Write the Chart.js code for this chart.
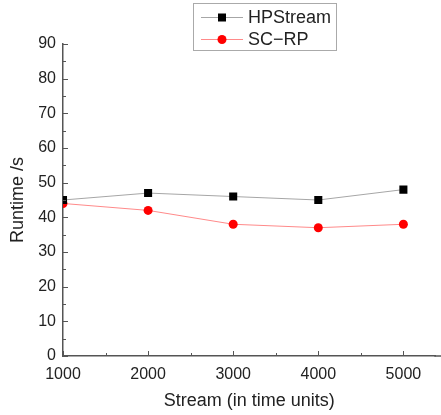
<!DOCTYPE html>
<html>
<head>
<meta charset="utf-8">
<script src="https://cdn.jsdelivr.net/npm/chart.js@4"></script>
<style>
  html, body { margin: 0; padding: 0; background: #fff; }
  #wrap { width: 441px; height: 415px; }
</style>
</head>
<body>
<div id="wrap"><canvas id="runtimeChart"></canvas></div>
<script>
// Data
const streamSizes = [1000, 2000, 3000, 4000, 5000];
const hpStreamRuntime = [45, 47, 46, 45, 48];
const scRpRuntime = [44, 42, 38, 37, 38];
const xTickValues = [1000, 2000, 3000, 4000, 5000];
const yTickValues = [0, 10, 20, 30, 40, 50, 60, 70, 80, 90];

const fontFamily = '"Liberation Sans", Arial, sans-serif';
const textColor = '#222';
const axisColor = '#555';

// inward major / minor ticks, like the original plot
const inwardTicks = {
    id: 'inwardTicks',
    afterDraw(chart) {
        const { ctx, chartArea, scales } = chart;
        ctx.save();
        ctx.strokeStyle = axisColor;
        ctx.lineWidth = 1;
        for (let v = 0; v <= 90; v += 5) {
            const y = Math.round(scales.y.getPixelForValue(v)) + 0.5;
            const len = v % 10 === 0 ? 5 : 3;
            ctx.beginPath();
            ctx.moveTo(chartArea.left, y);
            ctx.lineTo(chartArea.left + len, y);
            ctx.stroke();
        }
        for (let v = 1000; v <= scales.x.max; v += 500) {
            const x = Math.round(scales.x.getPixelForValue(v)) + 0.5;
            const len = v % 1000 === 0 ? 5 : 3;
            ctx.beginPath();
            ctx.moveTo(x, chartArea.bottom);
            ctx.lineTo(x, chartArea.bottom - len);
            ctx.stroke();
        }
        // bottom axis runs on to the right edge in the original
        ctx.lineWidth = 1.5;
        ctx.beginPath();
        ctx.moveTo(chartArea.right - 1, chartArea.bottom);
        ctx.lineTo(chart.width, chartArea.bottom);
        ctx.stroke();
        ctx.restore();
    }
};

// boxed legend with line + marker samples
const boxLegend = {
    id: 'boxLegend',
    afterDraw(chart) {
        const ctx = chart.ctx;
        ctx.save();
        ctx.strokeStyle = '#aaa';
        ctx.lineWidth = 1;
        ctx.strokeRect(193.5, 3.5, 143, 47);
        chart.data.datasets.forEach((ds, i) => {
            const y = 17 + i * 22;
            ctx.strokeStyle = ds.borderColor;
            ctx.lineWidth = 1;
            ctx.beginPath();
            ctx.moveTo(201, y + 0.5);
            ctx.lineTo(243, y + 0.5);
            ctx.stroke();
            ctx.fillStyle = ds.pointBackgroundColor;
            if (ds.pointStyle === 'rect') {
                ctx.fillRect(218, y - 3.5, 8, 8);
            } else {
                ctx.beginPath();
                ctx.arc(222, y + 0.5, 4.5, 0, Math.PI * 2);
                ctx.fill();
            }
            ctx.fillStyle = textColor;
            ctx.font = '18px ' + fontFamily;
            ctx.textBaseline = 'middle';
            ctx.textAlign = 'left';
            ctx.fillText(ds.label, 248, y + 1);
        });
        ctx.restore();
    }
};

new Chart(document.getElementById('runtimeChart'), {
    type: 'line',
    data: {
        datasets: [{
            label: 'HPStream',
            data: streamSizes.map((x, i) => ({ x: x, y: hpStreamRuntime[i] })),
            borderColor: '#a6a6a6',
            backgroundColor: '#000',
            pointBackgroundColor: '#000',
            pointBorderWidth: 0,
            pointStyle: 'rect',
            pointRadius: 5.7,
            borderWidth: 1,
            tension: 0
        }, {
            label: 'SC\u2212RP',
            data: streamSizes.map((x, i) => ({ x: x, y: scRpRuntime[i] })),
            borderColor: '#ff8a8a',
            backgroundColor: '#ff0000',
            pointBackgroundColor: '#ff0000',
            pointBorderWidth: 0,
            pointStyle: 'circle',
            pointRadius: 4.5,
            borderWidth: 1,
            tension: 0
        }]
    },
    options: {
        responsive: true,
        maintainAspectRatio: false,
        animation: false,
        layout: { padding: { top: 44, right: 0, left: 0, bottom: 0 } },
        plugins: {
            legend: { display: false },
            tooltip: { enabled: false }
        },
        scales: {
            x: {
                type: 'linear',
                min: 1000,
                max: 5375,
                afterBuildTicks: scale => { scale.ticks = xTickValues.map(v => ({ value: v })); },
                afterFit: scale => { scale.height = 59; },
                grid: { display: true, drawOnChartArea: false, drawTicks: false },
                border: { color: axisColor, width: 1.5 },
                ticks: {
                    padding: 9,
                    color: textColor,
                    font: { family: fontFamily, size: 16 },
                    maxRotation: 0,
                    callback: value => String(value)
                },
                title: {
                    display: true,
                    text: 'Stream (in time units)',
                    color: textColor,
                    font: { family: fontFamily, size: 18 },
                    padding: { top: 4, bottom: 3 }
                }
            },
            y: {
                min: 0,
                max: 90,
                afterBuildTicks: scale => { scale.ticks = yTickValues.map(v => ({ value: v })); },
                afterFit: scale => { scale.width = 63; },
                grid: { display: true, drawOnChartArea: false, drawTicks: false },
                border: { color: axisColor, width: 1.5 },
                ticks: {
                    padding: 7,
                    color: textColor,
                    font: { family: fontFamily, size: 16 },
                    callback: value => String(value)
                },
                title: {
                    display: true,
                    text: 'Runtime /s',
                    color: textColor,
                    font: { family: fontFamily, size: 18 },
                    padding: { top: 7, bottom: 4 }
                }
            }
        }
    },
    plugins: [inwardTicks, boxLegend]
});
</script>
</body>
</html>
